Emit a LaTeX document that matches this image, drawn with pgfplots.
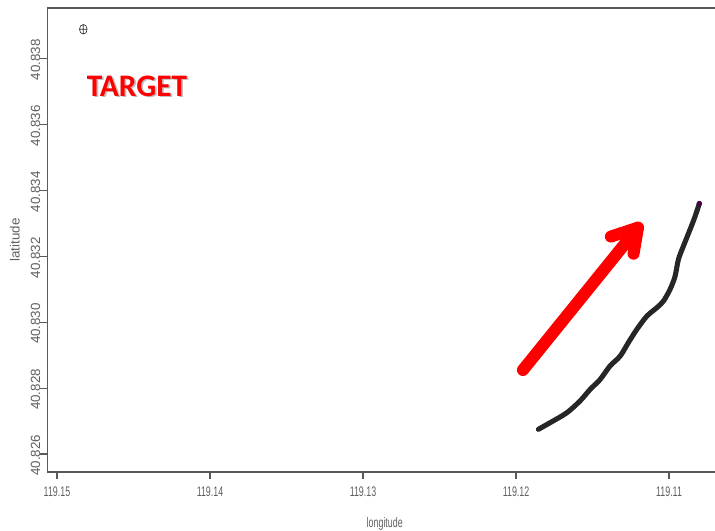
\documentclass[border=0pt]{standalone}
\usepackage{fontspec}
\setmainfont{Liberation Sans}
\newfontfamily\carlito{Carlito}
\usepackage{pgfplots}
\pgfplotsset{compat=1.18}
\definecolor{axgray}{RGB}{90,90,90}
\definecolor{txtgray}{RGB}{95,95,95}
\begin{document}
\begin{tikzpicture}
% x values: (longitude - 119.1) * 1000 ; y values: (latitude - 40.82) * 1000
\begin{axis}[
  scale only axis,
  width=505.875pt, height=348pt,
  x dir=reverse,
  xmin=6.54, xmax=50.62,
  ymin=5.455, ymax=19.536,
  axis line style={axgray, line width=0.9pt},
  every tick/.style={axgray, line width=0.9pt},
  tick align=outside,
  major tick length=5.25pt,
  xtick pos=lower, ytick pos=lower,
  xtick={10,20,30,40,50},
  xticklabels={119.11,119.12,119.13,119.14,119.15},
  ytick={6,8,10,12,14,16,18},
  yticklabels={40.826,40.828,40.830,40.832,40.834,40.836,40.838},
  xticklabel style={text=txtgray, font=\fontsize{10.4pt}{12pt}\selectfont, xscale=0.64, anchor=north, inner sep=0pt, yshift=-6pt},
  yticklabel style={text=txtgray, font=\fontsize{10pt}{12pt}\selectfont, rotate=90, anchor=south, inner sep=0pt, xshift=-1pt},
  xlabel={longitude},
  ylabel={latitude},
  xlabel style={at={(axis description cs:0.5,0)}, anchor=center, yshift=-39pt, text=txtgray, font=\fontsize{10.4pt}{12pt}\selectfont, xscale=0.64},
  ylabel style={at={(axis description cs:0,0.5)}, anchor=center, yshift=24.4pt, text=txtgray, font=\fontsize{10pt}{12pt}\selectfont},
]
% target marker
\addplot[only marks, mark=oplus, mark size=3.6pt, mark options={xscale=0.8, black!80, line width=0.5pt}] coordinates {(48.28,18.89)};
% track
\addplot[black!85, line width=3.8pt, smooth, line cap=round, line join=round] table {
x y
18.54 6.75
17.78 6.95
16.69 7.25
15.82 7.61
15.16 7.96
14.51 8.26
13.86 8.67
13.20 8.97
12.66 9.38
12.11 9.78
11.46 10.18
10.80 10.44
10.37 10.64
9.94 10.99
9.61 11.39
9.39 11.90
9.07 12.30
8.63 12.81
8.30 13.21
8.02 13.60
};
\addplot[only marks, mark=*, mark size=1.8pt, color=violet!60!black] coordinates {(8.02,13.60)};
% red arrow annotation
\draw[red, line width=9pt, line cap=round, line join=round]
  (axis cs:19.55,8.55) -- (axis cs:12.03,12.870);
\draw[red, line width=9pt, line cap=round, line join=round]
  (axis cs:13.80,12.60) -- (axis cs:12.03,12.870) -- (axis cs:12.32,12.08);
% TARGET label with shadow
\node[text=black!45, opacity=0.55, font=\carlito\bfseries\fontsize{23.5pt}{23.5pt}\selectfont, xshift=1.3pt, yshift=-1.3pt] at (axis cs:44.77,17.17) {TARGET};
\node[text=red, font=\carlito\bfseries\fontsize{23.5pt}{23.5pt}\selectfont] at (axis cs:44.77,17.17) {TARGET};
\end{axis}
\pgfresetboundingbox
\useasboundingbox (-35.625pt,-44.25pt) rectangle (500.625pt,354pt);
\end{tikzpicture}
\end{document}
